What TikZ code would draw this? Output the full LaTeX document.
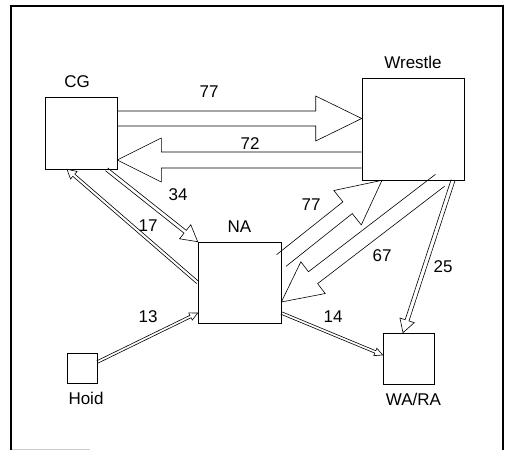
\documentclass[tikz,border=0pt]{standalone}
\usepackage{fontspec}
\setmainfont{Liberation Sans}
\usetikzlibrary{calc,positioning}
% outlined flow arrow: start, tip, half shaft, half head, head length
\newcommand{\flowarrow}[5]{%
  \coordinate (fbase) at ($(#2)!#5!(#1)$);
  \draw ($(#1)!#3!90:(#2)$) -- ($(fbase)!#3!90:(#2)$)
    -- ($(fbase)!#4!90:(#2)$) -- (#2) -- ($(fbase)!#4!-90:(#2)$)
    -- ($(fbase)!#3!-90:(#2)$) -- ($(#1)!#3!-90:(#2)$);}

\begin{document}
\begin{tikzpicture}[
  x=1pt,y=-1pt,
  node distance=8.5pt,
  line width=0.6pt,
  every node/.style={font=\fontsize{17}{20}\selectfont,inner sep=0pt},
  box/.style={draw,line width=0.6pt}
]
\useasboundingbox (0,0) rectangle (505,450);
\draw[line width=1.8pt] (11,450) -- (11,6) -- (503,6) -- (503,450);
\draw[gray!40,line width=0.8pt] (12,449) -- (90,449);

% boxes
\node[box,minimum width=72pt,minimum height=72pt] (cg) at (81,133) {};
\node[box,minimum size=102pt] (wr) at (413,129) {};
\node[box,minimum width=83pt,minimum height=81pt] (na) at (239.5,282.5) {};
\node[box,minimum size=30pt] (hoid) at (82,368) {};
\node[box,minimum size=51pt] (wa) at (408.5,358.5) {};

% box names
\node[above=of cg,xshift=-4pt] (cgname) {CG};
\node[above=of wr] (wrname) {Wrestle};
\node[above=of na] (naname) {NA};
\node[below=of hoid,xshift=4pt] (hoidname) {Hoid};
\node[below=of wa,xshift=5pt] (waname) {WA/RA};

% arrow ends
\coordinate (cgwrs) at ([yshift=14.5pt]cg.east);
\coordinate (cgwrt) at ([yshift=10.5pt]wr.west);
\coordinate (wrcgs) at ([yshift=-31pt]wr.west);
\coordinate (wrcgt) at ([yshift=-27pt]cg.east);
\coordinate (cgnas) at ([xshift=25.5pt]cg.south);
\coordinate (nacgt) at ([xshift=-14pt]cg.south);
\coordinate (nawrs) at ([yshift=22pt]na.east);
\coordinate (nawrt) at ([xshift=-31pt]wr.south);
\coordinate (wrnas) at ([xshift=27pt]wr.south);
\coordinate (wrnat) at ([yshift=-19.5pt]na.east);
\coordinate (wrwas) at ([xshift=40pt]wr.south);
\coordinate (wrwat) at ([xshift=-5.5pt]wa.north);
\coordinate (nawas) at ([yshift=-30.5pt]na.east);
\coordinate (nawat) at ([yshift=3.5pt]wa.west);
\coordinate (hoidnas) at ([yshift=6pt]hoid.east);
\coordinate (hoidnat) at ([yshift=-30.5pt]na.west);

% flows
\flowarrow{cgwrs}{cgwrt}{7.5pt}{22.5pt}{46pt}
\flowarrow{wrcgs}{wrcgt}{8pt}{22pt}{44pt}
\flowarrow{nawrs}{nawrt}{7.5pt}{22pt}{44pt}
\flowarrow{wrnas}{wrnat}{7.5pt}{20pt}{40pt}
\flowarrow{cgnas}{na.north west}{1.8pt}{9pt}{16pt}
\flowarrow{na.west}{nacgt}{1.5pt}{5pt}{9pt}
\flowarrow{wrwas}{wrwat}{2pt}{7.5pt}{13pt}
\flowarrow{nawas}{nawat}{1.3pt}{4pt}{8pt}
\flowarrow{hoidnas}{hoidnat}{1.3pt}{4pt}{8pt}

% flow values
\node (v77a) at (209,92) {77};
\node (v72) at (250,144) {72};
\node (v34) at (178,195) {34};
\node (v17) at (148,226) {17};
\node (v77b) at (311,205) {77};
\node (v67) at (382,256) {67};
\node (v25) at (443,267) {25};
\node (v14) at (333,317) {14};
\node (v13) at (148,317) {13};
\end{tikzpicture}
\end{document}
